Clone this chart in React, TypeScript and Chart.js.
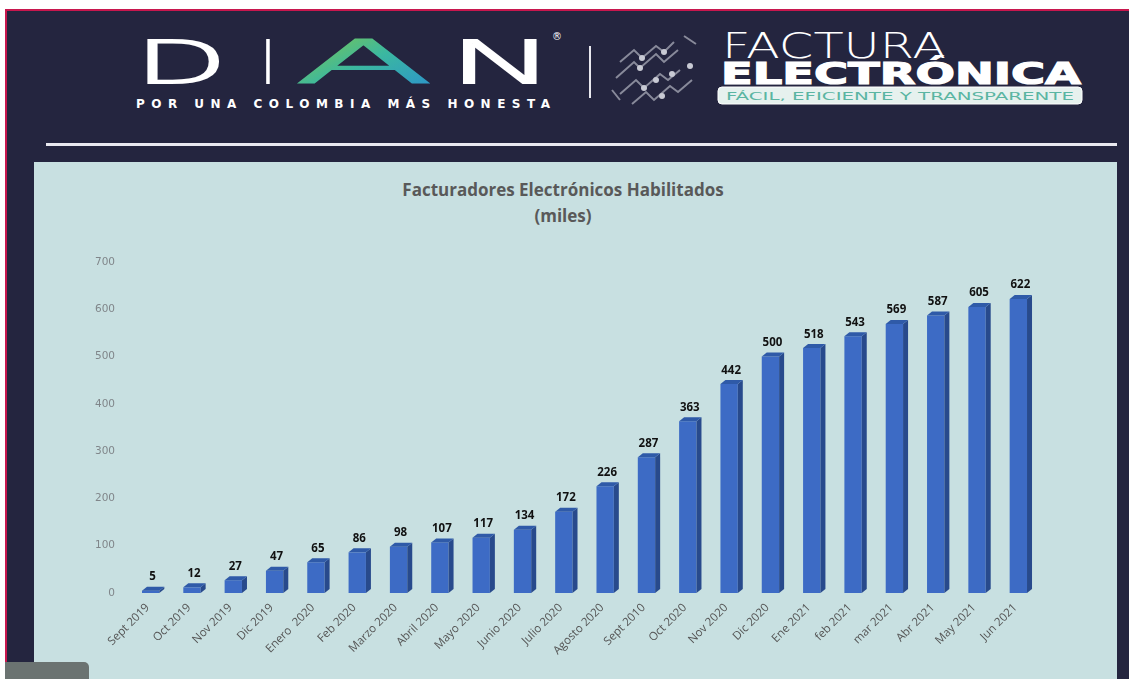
import React, { useEffect, useRef } from "react";
import { Chart, registerables } from "chart.js";

Chart.register(...registerables);

const categories = [
  "Sept 2019", "Oct 2019", "Nov 2019", "Dic 2019", "Enero  2020", "Feb 2020",
  "Marzo 2020", "Abril 2020", "Mayo 2020", "Junio 2020", "Julio 2020", "Agosto 2020",
  "Sept 2010", "Oct 2020", "Nov 2020", "Dic 2020", "Ene 2021", "feb 2021",
  "mar 2021", "Abr 2021", "May 2021", "Jun 2021",
];
const values = [5, 12, 27, 47, 65, 86, 98, 107, 117, 134, 172, 226, 287, 363, 442, 500, 518, 543, 569, 587, 605, 622];
const yTicks = [0, 100, 200, 300, 400, 500, 600, 700];
const titleLines = ["Facturadores Electrónicos Habilitados", "(miles)"];

const NAVY = "#24253f";
const PANEL = "#c8e0e1";
const DEPTH = 5;

const bar3d = {
  id: "bar3d",
  afterDatasetsDraw(chart: any) {
    const ctx = chart.ctx;
    const meta = chart.getDatasetMeta(0);
    ctx.save();
    meta.data.forEach((el: any, i: number) => {
      const { x, y, base, width } = el.getProps(["x", "y", "base", "width"], true);
      const l = x - width / 2;
      const r = x + width / 2;
      const dy = DEPTH * 0.8;
      ctx.fillStyle = "#284a8c";
      ctx.beginPath();
      ctx.moveTo(r, y);
      ctx.lineTo(r + DEPTH, y - dy);
      ctx.lineTo(r + DEPTH, base - dy);
      ctx.lineTo(r, base);
      ctx.closePath();
      ctx.fill();
      ctx.fillStyle = "#2f5aa8";
      ctx.beginPath();
      ctx.moveTo(l, y);
      ctx.lineTo(l + DEPTH, y - dy);
      ctx.lineTo(r + DEPTH, y - dy);
      ctx.lineTo(r, y);
      ctx.closePath();
      ctx.fill();
      ctx.fillStyle = "#111";
      ctx.font = "bold 11.5px 'Open Sans'";
      ctx.textAlign = "center";
      ctx.textBaseline = "bottom";
      ctx.fillText(String(values[i]), x + 2, y - dy - 4);
    });
    ctx.restore();
  },
};

function App() {
  const ref = useRef<HTMLCanvasElement | null>(null);

  useEffect(() => {
    document.body.style.margin = "0";
    const canvas = ref.current!;
    const chart = new Chart(canvas, {
      type: "bar",
      data: {
        labels: categories,
        datasets: [
          {
            data: values,
            backgroundColor: "#3d6bc5",
            borderWidth: 0,
            barPercentage: 0.42,
            categoryPercentage: 1,
          },
        ],
      },
      options: {
        responsive: false,
        animation: false,
        devicePixelRatio: 1,
        layout: { padding: { left: 36, right: 77, top: 100, bottom: 0 } },
        plugins: { legend: { display: false }, tooltip: { enabled: false }, title: { display: false } },
        scales: {
          x: {
            grid: { display: false },
            border: { display: false },
            ticks: {
              color: "#555",
              font: { family: "'Open Sans'", size: 11.5 },
              minRotation: 45,
              maxRotation: 45,
              autoSkip: false,
              padding: 0,
              labelOffset: -3,
            },
            afterFit(scale: any) {
              scale.height = 86;
            },
          },
          y: {
            min: 0,
            max: 700,
            afterBuildTicks(scale: any) {
              scale.ticks = yTicks.map((v) => ({ value: v }));
            },
            grid: { display: false },
            border: { display: false },
            ticks: {
              color: "#80868a",
              font: { family: "'DejaVu Sans'", size: 10.5 },
              padding: 7,
            },
            afterFit(scale: any) {
              scale.width = 60;
            },
          },
        },
      },
      plugins: [bar3d],
    });
    return () => chart.destroy();
  }, []);

  const logoFont = { fontFamily: "DejaVu Sans", fontWeight: 200, fontSize: 58 } as any;

  return (
    <div style={{ position: "fixed", left: 0, top: 0, width: 1129, height: 679, background: "#fff", overflow: "hidden" }}>
      <div style={{ position: "absolute", left: 5, top: 9, width: 1124, height: 670, background: NAVY, borderTop: "2px solid #c8174e", borderLeft: "2px solid #c8174e", boxSizing: "border-box" }} />
      <svg width={1129} height={160} style={{ position: "absolute", left: 0, top: 0 }}>
        <defs>
          <linearGradient id="ga" x1="0" y1="0" x2="1" y2="1">
            <stop offset="0" stopColor="#8cc83c" />
            <stop offset="0.5" stopColor="#3bb8a0" />
            <stop offset="1" stopColor="#2a8fd0" />
          </linearGradient>
        </defs>
        <text x={135} y={83} fill="#fff" stroke="#fff" strokeWidth={2} {...logoFont} textLength={92} lengthAdjust="spacingAndGlyphs">D</text>
        <text x={262} y={83} fill="#fff" stroke="#fff" strokeWidth={2} {...logoFont} textLength={12} lengthAdjust="spacingAndGlyphs">I</text>
        <text x={296} y={83} fill="url(#ga)" stroke="url(#ga)" strokeWidth={2} {...logoFont} textLength={136} lengthAdjust="spacingAndGlyphs">A</text>
        <text x={448} y={83} fill="#fff" stroke="#fff" strokeWidth={2} {...logoFont} textLength={108} lengthAdjust="spacingAndGlyphs">N</text>
        <text x={552} y={40} fill="#fff" fontFamily="DejaVu Sans" fontSize={10}>®</text>
        <text x={136} y={108} fill="#fff" fontFamily="DejaVu Sans" fontWeight="bold" fontSize={12} textLength={414} lengthAdjust="spacing">POR UNA COLOMBIA MÁS HONESTA</text>
        <line x1={590} y1={46} x2={590} y2={98} stroke="#e8e8ee" strokeWidth={2} />
        <g stroke="#9a9cab" strokeWidth={2} fill="none" opacity={0.85}>
          <path d="M620 62 l14 -12 l8 8 l14 -12 l8 6 l10 -10" />
          <path d="M616 78 l18 -16 l6 6 l16 -14 l8 8 l14 -12" />
          <path d="M620 94 l16 -14 l8 8 l16 -14 l8 6 l12 -10" />
          <path d="M632 104 l14 -12 l8 8 l16 -14 l8 6 l14 -12" />
          <path d="M684 36 l12 8 M612 90 l8 10" />
        </g>
        <g fill="#c8cad4">
          <circle cx={642} cy={58} r={3} /><circle cx={664} cy={52} r={3} /><circle cx={640} cy={68} r={3} />
          <circle cx={656} cy={80} r={3} /><circle cx={644} cy={88} r={3} /><circle cx={672} cy={74} r={3} />
          <circle cx={662} cy={96} r={3} /><circle cx={690} cy={66} r={3} />
        </g>
        <text x={722} y={58} fill="#fff" fontFamily="DejaVu Sans" fontWeight={200} fontSize={35} textLength={224} lengthAdjust="spacingAndGlyphs">FACTURA</text>
        <text x={721} y={84} fill="#fff" fontFamily="DejaVu Sans" fontWeight="bold" fontSize={30} textLength={360} lengthAdjust="spacingAndGlyphs" stroke="#fff" strokeWidth={1.2}>ELECTRÓNICA</text>
        <rect x={718} y={87} width={364} height={17} rx={4} fill="#e6f1ee" stroke="#fff" strokeWidth={1} />
        <text x={726} y={100} fill="#5ab5a2" fontFamily="DejaVu Sans" fontSize={11} textLength={348} lengthAdjust="spacingAndGlyphs">FÁCIL, EFICIENTE Y TRANSPARENTE</text>
        <rect x={46} y={143} width={1071} height={3} fill="#e9e9f0" />
      </svg>
      <div style={{ position: "absolute", left: 34, top: 162, width: 1083, height: 517, background: PANEL }}>
        <div style={{ position: "absolute", left: 0, top: 15, width: 1058, textAlign: "center", fontFamily: "'Open Sans'", fontWeight: 700, fontSize: 17, lineHeight: "26px", color: "#595959" }}>
          {titleLines.map((t) => (<div key={t}>{t}</div>))}
        </div>
        <canvas ref={ref} width={1082} height={517} style={{ position: "absolute", left: 0, top: 0, width: 1082, height: 517 }} />
      </div>
      <div style={{ position: "absolute", left: 5, top: 662, width: 84, height: 17, background: "#6b7371", borderTopRightRadius: 5 }} />
    </div>
  );
}

export default App;
